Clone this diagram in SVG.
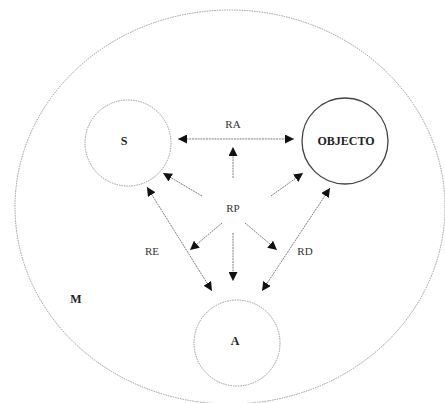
<svg xmlns="http://www.w3.org/2000/svg" width="445" height="403" viewBox="0 0 445 403">
<defs>
<style>
.dot{fill:none;stroke:#9a9a9a;stroke-width:1;stroke-dasharray:1.5 1}
.solid{fill:none;stroke:#444;stroke-width:1.3}
.con{fill:none;stroke:#808080;stroke-width:1;stroke-dasharray:2 0.8}
.lbl{font-family:"Liberation Serif","Times New Roman",serif;font-size:11px;fill:#333;text-anchor:middle}
.bold{font-weight:bold;font-size:12px;fill:#222}
</style>
<marker id="ah" viewBox="0 0 10 10" refX="10" refY="5" markerWidth="9" markerHeight="9" markerUnits="userSpaceOnUse" orient="auto-start-reverse">
<path d="M0,0 L10,5 L0,10 Z" fill="#111"/>
</marker>
</defs>
<rect width="445" height="403" fill="#fff"/>
<g id="M">
<ellipse class="dot" cx="230" cy="207" rx="215" ry="197"/>
<text class="lbl bold" x="76" y="303">M</text>
</g>
<g id="S">
<circle class="dot" cx="128" cy="143" r="43"/>
<text class="lbl bold" x="124" y="145">S</text>
</g>
<g id="OBJECTO">
<circle class="solid" cx="345" cy="141" r="43"/>
<text class="lbl bold" x="346" y="145">OBJECTO</text>
</g>
<g id="A">
<circle class="dot" cx="237" cy="343" r="43"/>
<text class="lbl bold" x="235" y="345">A</text>
</g>
<g id="RP">
<text class="lbl" x="233" y="212">RP</text>
</g>
<g id="connectors">
<line class="con" x1="178" y1="139" x2="294" y2="139" marker-start="url(#ah)" marker-end="url(#ah)"/>
<text class="lbl" x="233" y="128">RA</text>
<line class="con" x1="233" y1="178" x2="233" y2="147" marker-end="url(#ah)"/>
<line class="con" x1="202" y1="196" x2="163" y2="173" marker-end="url(#ah)"/>
<line class="con" x1="271" y1="196" x2="303" y2="173" marker-end="url(#ah)"/>
<line class="con" x1="233" y1="233" x2="233" y2="281" marker-end="url(#ah)"/>
<line class="con" x1="222" y1="223" x2="190" y2="250" marker-end="url(#ah)"/>
<line class="con" x1="245" y1="223" x2="277" y2="250" marker-end="url(#ah)"/>
<line class="con" x1="147" y1="187" x2="212" y2="291" marker-start="url(#ah)" marker-end="url(#ah)"/>
<text class="lbl" x="152" y="255">RE</text>
<line class="con" x1="330" y1="188" x2="262" y2="291" marker-start="url(#ah)" marker-end="url(#ah)"/>
<text class="lbl" x="305" y="255">RD</text>
</g>
</svg>
